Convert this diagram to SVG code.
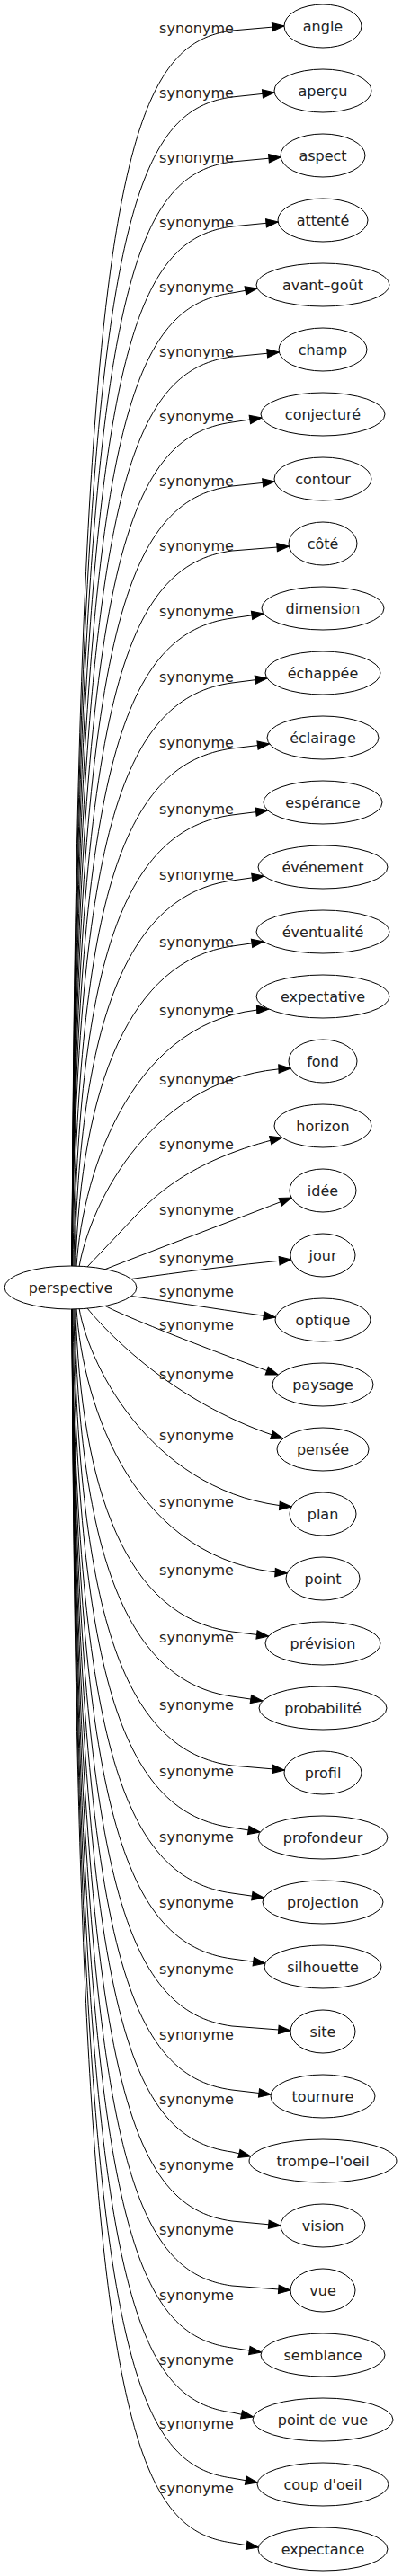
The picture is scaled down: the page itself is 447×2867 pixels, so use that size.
<svg xmlns="http://www.w3.org/2000/svg" width="447" height="2867" viewBox="0 0 447 2867">
<style>
.n ellipse{fill:#fff;stroke:#000;stroke-width:1}
.n text,.e text{font-family:"DejaVu Sans","Liberation Sans",sans-serif;font-size:16px;fill:#222;text-anchor:middle}
.e path{fill:none;stroke:#000;stroke-width:1;marker-end:url(#ah)}
</style>
<defs>
<marker id="ah" markerUnits="userSpaceOnUse" markerWidth="15" markerHeight="11" refX="13.3" refY="4.7" orient="auto" overflow="visible">
<path d="M0,0 L13.3,4.7 L0,9.4 Z" fill="#000" stroke="#000" stroke-width="1"/>
</marker>
</defs>
<rect width="447" height="2867" fill="#fff"/>
<g id="connectors" class="e">
<g><path d="M80,1410 C85,200 140,50 258,34 L316,29"/><text x="218.5" y="37">synonyme</text></g>
<g><path d="M80,1410 C85,272 140,124 258,108 L305.2,103"/><text x="218.5" y="109">synonyme</text></g>
<g><path d="M80,1410 C85,344 140,196 258,180 L312.2,175"/><text x="218.5" y="181">synonyme</text></g>
<g><path d="M80,1410 C85,416 140,268 258,252 L309.2,247"/><text x="218.5" y="253">synonyme</text></g>
<g><path d="M80,1410 C85,488 140,342 258,326 L286,321"/><text x="218.5" y="325">synonyme</text></g>
<g><path d="M80,1410 C85,560 140,413 258,397 L310.4,392"/><text x="218.5" y="397">synonyme</text></g>
<g><path d="M80,1410 C85,632 140,486 258,470 L291,465"/><text x="218.5" y="469">synonyme</text></g>
<g><path d="M80,1410 C85,704 140,557 258,541 L305.4,536"/><text x="218.5" y="541">synonyme</text></g>
<g><path d="M80,1410 C85,776 140,629 258,613 L321.3,608"/><text x="218.5" y="613">synonyme</text></g>
<g><path d="M80,1410 C85,848 140,704 258,688 L293.2,683"/><text x="218.5" y="686">synonyme</text></g>
<g><path d="M80,1410 C85,920 140,776 258,760 L297,755"/><text x="218.5" y="759">synonyme</text></g>
<g><path d="M81,1410 C86,992 140,849 258,833 L299.7,828"/><text x="218.5" y="832">synonyme</text></g>
<g><path d="M82,1410 C87,1064 140,923 258,907 L297.8,902"/><text x="218.5" y="906">synonyme</text></g>
<g><path d="M83,1410 C88,1136 142,996 258,980 L293.5,975"/><text x="218.5" y="979">synonyme</text></g>
<g><path d="M84,1410 C90,1208 145,1069 258,1053 L293.2,1048"/><text x="218.5" y="1054">synonyme</text></g>
<g><path d="M85,1410 C92,1300 150,1130 298.9,1123"/><text x="218.5" y="1130">synonyme</text></g>
<g><path d="M88,1410 C100,1340 170,1195 323.2,1189"/><text x="218.5" y="1207">synonyme</text></g>
<g><path d="M97,1410 L150,1354 C175,1328 215,1290 313.6,1266"/><text x="218.5" y="1279">synonyme</text></g>
<g><path d="M117,1412.6 C180,1388 260,1358 324.1,1333"/><text x="218.5" y="1352">synonyme</text></g>
<g><path d="M146,1423.5 C200,1416 260,1408 323.8,1402"/><text x="218.5" y="1406">synonyme</text></g>
<g><path d="M146,1442.5 C200,1450 260,1460 306.4,1466"/><text x="218.5" y="1443">synonyme</text></g>
<g><path d="M117,1453.4 C140,1466 240,1505 309.2,1530"/><text x="218.5" y="1480">synonyme</text></g>
<g><path d="M97,1456 C125,1490 200,1565 314.8,1601"/><text x="218.5" y="1535">synonyme</text></g>
<g><path d="M88,1456 C100,1526 175,1665 324.1,1677"/><text x="218.5" y="1603">synonyme</text></g>
<g><path d="M85,1456 C92,1566 150,1740 319.3,1751"/><text x="218.5" y="1677">synonyme</text></g>
<g><path d="M84,1456 C90,1658 140,1800 258,1816 L298.7,1821"/><text x="218.5" y="1753">synonyme</text></g>
<g><path d="M83,1456 C88,1730 142,1872 258,1888 L292,1893"/><text x="218.5" y="1828">synonyme</text></g>
<g><path d="M82,1456 C87,1802 140,1949 258,1965 L316.3,1970"/><text x="218.5" y="1903">synonyme</text></g>
<g><path d="M81,1456 C86,1874 140,2018 258,2034 L289.3,2039"/><text x="218.5" y="1977">synonyme</text></g>
<g><path d="M80,1456 C85,1946 140,2091 258,2107 L293.5,2112"/><text x="218.5" y="2050">synonyme</text></g>
<g><path d="M80,1456 C85,2018 140,2164 258,2180 L294.9,2185"/><text x="218.5" y="2123">synonyme</text></g>
<g><path d="M80,1456 C85,2090 140,2239 258,2255 L323,2260"/><text x="218.5" y="2197">synonyme</text></g>
<g><path d="M80,1456 C85,2162 140,2310 258,2326 L301.2,2331"/><text x="218.5" y="2270">synonyme</text></g>
<g><path d="M80,1456 C85,2234 140,2379 258,2395 L278.8,2400"/><text x="218.5" y="2342">synonyme</text></g>
<g><path d="M80,1456 C85,2306 140,2456 258,2472 L312,2477"/><text x="218.5" y="2415">synonyme</text></g>
<g><path d="M80,1456 C85,2378 140,2528 258,2544 L323,2549"/><text x="218.5" y="2487">synonyme</text></g>
<g><path d="M80,1456 C85,2450 140,2597 258,2613 L290.5,2618"/><text x="218.5" y="2560">synonyme</text></g>
<g><path d="M80,1456 C85,2522 140,2669 258,2685 L281.6,2690"/><text x="218.5" y="2632">synonyme</text></g>
<g><path d="M80,1456 C85,2594 140,2742 258,2758 L286.3,2763"/><text x="218.5" y="2703">synonyme</text></g>
<g><path d="M80,1456 C85,2666 140,2814 258,2830 L287.3,2835"/><text x="218.5" y="2775">synonyme</text></g>
</g>
<g id="perspective" class="n"><ellipse cx="78.5" cy="1433" rx="73.5" ry="24"/><text x="78.5" y="1438.5">perspective</text></g>
<g id="angle" class="n"><ellipse cx="359" cy="29" rx="43" ry="24"/><text x="359" y="34.5">angle</text></g>
<g id="apercu" class="n"><ellipse cx="359" cy="101" rx="54" ry="24"/><text x="359" y="106.5">aperçu</text></g>
<g id="aspect" class="n"><ellipse cx="359" cy="173" rx="47" ry="24"/><text x="359" y="178.5">aspect</text></g>
<g id="attente" class="n"><ellipse cx="359" cy="245" rx="50" ry="24"/><text x="359" y="250.5">attenté</text></g>
<g id="avant-gout" class="n"><ellipse cx="359" cy="317" rx="74" ry="24"/><text x="359" y="322.5">avant–goût</text></g>
<g id="champ" class="n"><ellipse cx="359" cy="389" rx="49" ry="24"/><text x="359" y="394.5">champ</text></g>
<g id="conjecture" class="n"><ellipse cx="359" cy="461" rx="69" ry="24"/><text x="359" y="466.5">conjecturé</text></g>
<g id="contour" class="n"><ellipse cx="359" cy="533" rx="54" ry="24"/><text x="359" y="538.5">contour</text></g>
<g id="cote" class="n"><ellipse cx="359" cy="605" rx="38" ry="24"/><text x="359" y="610.5">côté</text></g>
<g id="dimension" class="n"><ellipse cx="359" cy="677" rx="68" ry="24"/><text x="359" y="682.5">dimension</text></g>
<g id="echappee" class="n"><ellipse cx="359" cy="749" rx="64" ry="24"/><text x="359" y="754.5">échappée</text></g>
<g id="eclairage" class="n"><ellipse cx="359" cy="821" rx="62" ry="24"/><text x="359" y="826.5">éclairage</text></g>
<g id="esperance" class="n"><ellipse cx="359" cy="893" rx="66" ry="24"/><text x="359" y="898.5">espérance</text></g>
<g id="evenement" class="n"><ellipse cx="359" cy="965" rx="72" ry="24"/><text x="359" y="970.5">événement</text></g>
<g id="eventualite" class="n"><ellipse cx="359" cy="1037" rx="74" ry="24"/><text x="359" y="1042.5">éventualité</text></g>
<g id="expectative" class="n"><ellipse cx="359" cy="1109" rx="74" ry="24"/><text x="359" y="1114.5">expectative</text></g>
<g id="fond" class="n"><ellipse cx="359" cy="1181" rx="38" ry="24"/><text x="359" y="1186.5">fond</text></g>
<g id="horizon" class="n"><ellipse cx="359" cy="1253" rx="54" ry="24"/><text x="359" y="1258.5">horizon</text></g>
<g id="idee" class="n"><ellipse cx="359" cy="1325" rx="37" ry="24"/><text x="359" y="1330.5">idée</text></g>
<g id="jour" class="n"><ellipse cx="359" cy="1397" rx="36" ry="24"/><text x="359" y="1402.5">jour</text></g>
<g id="optique" class="n"><ellipse cx="359" cy="1469" rx="53" ry="24"/><text x="359" y="1474.5">optique</text></g>
<g id="paysage" class="n"><ellipse cx="359" cy="1541" rx="56" ry="24"/><text x="359" y="1546.5">paysage</text></g>
<g id="pensee" class="n"><ellipse cx="359" cy="1613" rx="51" ry="24"/><text x="359" y="1618.5">pensée</text></g>
<g id="plan" class="n"><ellipse cx="359" cy="1685" rx="37" ry="24"/><text x="359" y="1690.5">plan</text></g>
<g id="point" class="n"><ellipse cx="359" cy="1757" rx="41" ry="24"/><text x="359" y="1762.5">point</text></g>
<g id="prevision" class="n"><ellipse cx="359" cy="1829" rx="64" ry="24"/><text x="359" y="1834.5">prévision</text></g>
<g id="probabilite" class="n"><ellipse cx="359" cy="1901" rx="71" ry="24"/><text x="359" y="1906.5">probabilité</text></g>
<g id="profil" class="n"><ellipse cx="359" cy="1973" rx="43" ry="24"/><text x="359" y="1978.5">profil</text></g>
<g id="profondeur" class="n"><ellipse cx="359" cy="2045" rx="72" ry="24"/><text x="359" y="2050.5">profondeur</text></g>
<g id="projection" class="n"><ellipse cx="359" cy="2117" rx="67" ry="24"/><text x="359" y="2122.5">projection</text></g>
<g id="silhouette" class="n"><ellipse cx="359" cy="2189" rx="65" ry="24"/><text x="359" y="2194.5">silhouette</text></g>
<g id="site" class="n"><ellipse cx="359" cy="2261" rx="36" ry="24"/><text x="359" y="2266.5">site</text></g>
<g id="tournure" class="n"><ellipse cx="359" cy="2333" rx="58" ry="24"/><text x="359" y="2338.5">tournure</text></g>
<g id="trompe-loeil" class="n"><ellipse cx="359" cy="2405" rx="82" ry="24"/><text x="359" y="2410.5">trompe–l'oeil</text></g>
<g id="vision" class="n"><ellipse cx="359" cy="2477" rx="47" ry="24"/><text x="359" y="2482.5">vision</text></g>
<g id="vue" class="n"><ellipse cx="359" cy="2549" rx="36" ry="24"/><text x="359" y="2554.5">vue</text></g>
<g id="semblance" class="n"><ellipse cx="359" cy="2621" rx="69" ry="24"/><text x="359" y="2626.5">semblance</text></g>
<g id="point-de-vue" class="n"><ellipse cx="359" cy="2693" rx="78" ry="24"/><text x="359" y="2698.5">point de vue</text></g>
<g id="coup-doeil" class="n"><ellipse cx="359" cy="2765" rx="73" ry="24"/><text x="359" y="2770.5">coup d'oeil</text></g>
<g id="expectance" class="n"><ellipse cx="359" cy="2837" rx="72" ry="24"/><text x="359" y="2842.5">expectance</text></g>
</svg>
